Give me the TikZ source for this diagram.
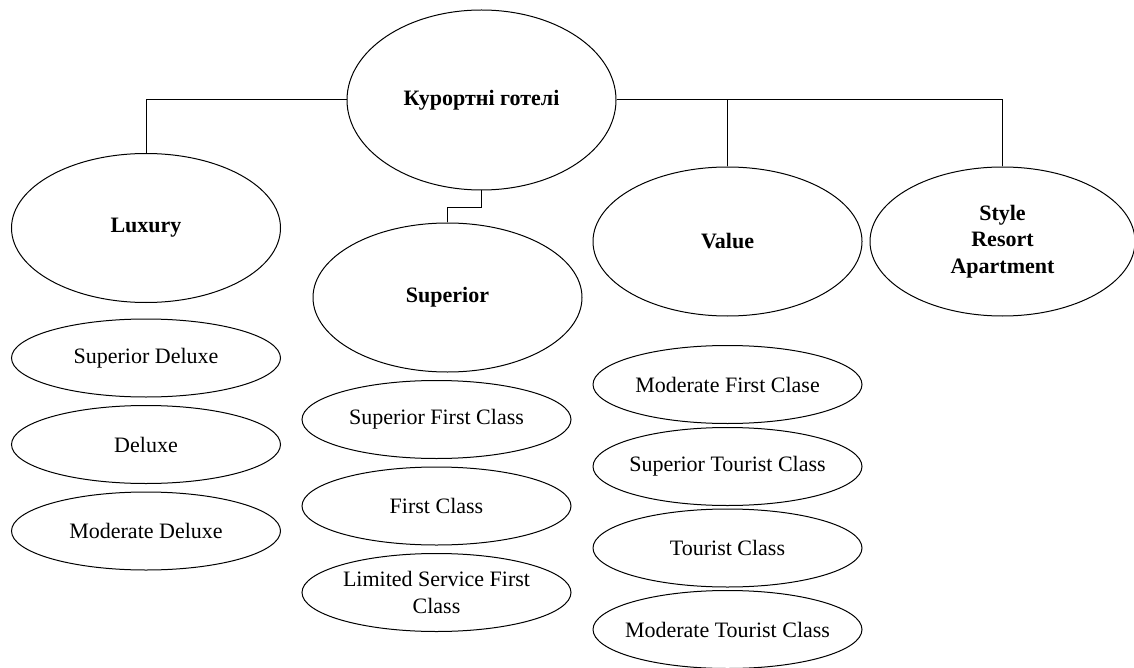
\documentclass[tikz,border=0pt]{standalone}
\usepackage{fontspec}
\setmainfont{Liberation Serif}
\usetikzlibrary{shapes.geometric}

\begin{document}
\begin{tikzpicture}[x=0.5pt, y=-0.5pt, line width=0.5pt,
  every node/.style={font=\fontsize{11}{13.2}\selectfont, align=center, inner sep=0pt},
  big/.style={draw, ellipse, minimum width=134.5pt, minimum height=74.5pt, font=\fontsize{11}{13.2}\selectfont\bfseries},
  small/.style={draw, ellipse, minimum width=134.5pt, minimum height=39pt, inner xsep=-25pt}]
\useasboundingbox (0,0) rectangle (1134,668);
\node[big, minimum height=90pt] (top) at ( 481.5, 100  ) {Курортні готелі};
\node[big] (lux) at ( 146  , 228  ) {Luxury};
\node[big] (sup) at ( 447.5, 297.5) {Superior};
\node[big] (val) at ( 727.5, 241.5) {Value};
\node[big, minimum width=132.5pt] (sty) at (1002.5, 241.5) {Style\\ Resort\\ Apartment};
%\node[small] (sd0) at (146,272) {};
\node[small] (sdlx) at ( 146  , 358  ) {Superior Deluxe};
\node[small] (dlx)  at ( 146  , 444.5) {Deluxe};
\node[small] (mdlx) at ( 146  , 531  ) {Moderate Deluxe};
\node[small] (sfc)  at ( 436.5, 419.5) {Superior First Class};
\node[small] (fc)   at ( 436.5, 506  ) {First Class};
\node[small] (lsfc) at ( 436.5, 592.5) {Limited Service First\\ Class};
\node[small] (mfc)  at ( 727.5, 384.5) {Moderate First Clase};
\node[small] (stc)  at ( 727.5, 466.5) {Superior Tourist Class};
\node[small] (tc)   at ( 727.5, 548  ) {Tourist Class};
\node[small] (mtc)  at ( 727.5, 629.5) {Moderate Tourist Class};
\draw (top.west) -| (lux.north);
\draw (top.east) -| (val.north);
\draw (top.east) -| (sty.north);
\draw (top.south) -- ++(0,17) -| (sup.north);
\end{tikzpicture}
\end{document}
